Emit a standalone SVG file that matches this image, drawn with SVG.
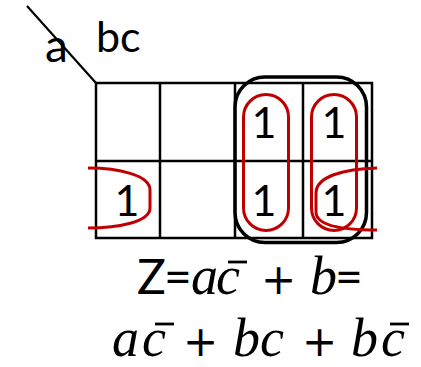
<svg xmlns="http://www.w3.org/2000/svg" width="421" height="367" viewBox="0 0 421 367">
<style>
.grid{fill:none;stroke:#000;stroke-width:2.5}
.red{fill:none;stroke:#c00000;stroke-width:3}
.blk{fill:none;stroke:#000;stroke-width:3.5}
.sans{font-family:Lato,"Open Sans","Liberation Sans",sans-serif;fill:#000}
.one{font-size:43px;text-anchor:middle}
.ital{font-family:"Liberation Serif","DejaVu Serif",serif;font-style:italic;font-size:54px}
.op{font-family:"DejaVu Sans","Liberation Sans",sans-serif;font-size:42px}
.bar{stroke:#000;stroke-width:2.8}
</style>
<rect width="421" height="367" fill="#fff"/>
<g id="header">
  <line x1="27" y1="6" x2="96" y2="83" stroke="#000" stroke-width="2.2"/>
  <text class="sans" x="45" y="62" font-size="46">a</text>
  <text class="sans" x="96" y="52" font-size="43">bc</text>
</g>
<g id="grid">
  <rect class="grid" x="96" y="83" width="276" height="155"/>
  <line class="grid" x1="160" y1="83" x2="160" y2="238"/>
  <line class="grid" x1="235" y1="83" x2="235" y2="238"/>
  <line class="grid" x1="303" y1="83" x2="303" y2="238"/>
  <line class="grid" x1="96" y1="161" x2="372" y2="161"/>
</g>
<g id="cells" class="sans one">
  <text x="264" y="138">1</text>
  <text x="334" y="138">1</text>
  <text x="127" y="216">1</text>
  <text x="264" y="216">1</text>
  <text x="334" y="216">1</text>
</g>
<g id="group-b">
  <rect class="blk" x="235" y="77" width="131.5" height="165.5" rx="30" ry="30"/>
</g>
<g id="loops">
  <rect class="red" x="243.5" y="94.5" width="45" height="136" rx="22.5" ry="22.5"/>
  <rect class="red" x="311.5" y="94.5" width="45" height="136" rx="22.5" ry="22.5"/>
  <path class="red" d="M88,168 C118,168 150,175 150,190 L150,208 C150,222 118,228 88,228"/>
  <path class="red" d="M377,168 C345,169 316,176 316,193 L316,212 C316,226 345,230 377,230"/>
</g>
<g id="formula">
  <text y="294"><tspan class="sans" x="137" font-size="48">Z</tspan><tspan class="sans" x="164" font-size="48">=</tspan><tspan class="ital" x="191">a</tspan><tspan class="ital" x="216">c</tspan><tspan class="op" x="261">+</tspan><tspan class="ital" x="310">b</tspan><tspan class="sans" x="335" font-size="48">=</tspan></text>
  <line class="bar" x1="228" y1="262" x2="247" y2="262"/>
  <text y="356"><tspan class="ital" x="112">a</tspan><tspan class="ital" x="142">c</tspan><tspan class="op" x="183">+</tspan><tspan class="ital" x="233">b</tspan><tspan class="ital" x="260">c</tspan><tspan class="op" x="302">+</tspan><tspan class="ital" x="351">b</tspan><tspan class="ital" x="381">c</tspan></text>
  <line class="bar" x1="155" y1="324" x2="174" y2="324"/>
  <line class="bar" x1="390" y1="324" x2="409" y2="324"/>
</g>
</svg>
